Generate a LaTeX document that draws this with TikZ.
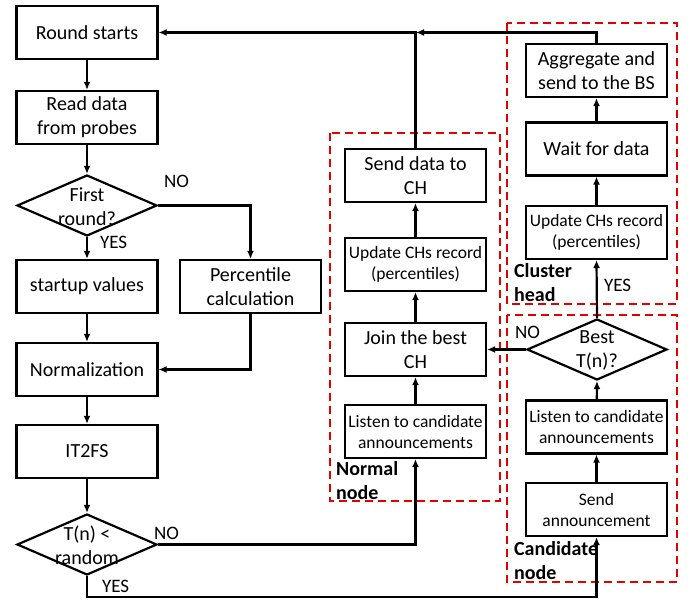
\documentclass[tikz,border=0pt]{standalone}
\usepackage{fontspec}
\setmainfont{Carlito}
\usetikzlibrary{shapes.geometric,arrows.meta}
\begin{document}
\begin{tikzpicture}[x=1pt,y=-1pt, line width=2.2pt,
  box/.style={draw, line width=2.2pt, rectangle, minimum width=141pt, minimum height=53pt, inner sep=0pt, align=center, font=\fontsize{20}{24}\selectfont},
  sbox/.style={box, font=\fontsize{17.5}{21}\selectfont},
  dia/.style={draw, line width=2.2pt, diamond, minimum width=140pt, minimum height=61pt, inner sep=0pt},
  dtext/.style={align=center, inner sep=0pt, font=\fontsize{20}{24}\selectfont},
  yn/.style={anchor=base west, inner sep=0pt, font=\fontsize{19}{23}\selectfont},
  grp/.style={anchor=base west, inner sep=0pt, align=left, font=\fontsize{20}{24}\selectfont\bfseries},
  reg/.style={draw=red!90!black, dashed, dash pattern=on 8pt off 5pt, line width=2.2pt},
  arr/.style={line width=2.2pt, -{Latex[length=8pt,width=7pt]}}
]
\useasboundingbox (0,0) rectangle (697,601);
% dashed groups
\draw[reg] (330,133) rectangle (500,501);
\draw[reg] (507,23) rectangle (677,304);
\draw[reg] (507,315) rectangle (677,582);
% left column
\node[box] (round) at (87,32.5) {Round starts};
\node[box] (read) at (87,117.5) {Read data\\from probes};
\node[dia] (first) at (87,205.5) {};
\node[dtext] (firstt) at (87,207) {First\\round?};
\node[box] (startup) at (87,286.5) {startup values};
\node[box] (perc) at (250.5,286.5) {Percentile\\calculation};
\node[box] (norm) at (87,369.5) {Normalization};
\node[box] (it2) at (87,451.5) {IT2FS};
\node[dia] (tn) at (87,544.5) {};
\node[dtext] (tnt) at (87,545) {T(n) <\\random};
% normal node column
\node[box] (send) at (415.5,175.5) {Send data to\\CH};
\node[sbox] (updn) at (415.5,264.5) {Update CHs record\\(percentiles)};
\node[box] (join) at (415.5,349.5) {Join the best\\CH};
\node[sbox] (listn) at (415.5,431.5) {Listen to candidate\\announcements};
% cluster head column
\node[box] (agg) at (596.5,70.5) {Aggregate and\\send to the BS};
\node[box] (wait) at (596.5,149) {Wait for data};
\node[sbox] (updc) at (596.5,232.5) {Update CHs record\\(percentiles)};
% candidate column
\node[dia] (best) at (597,349.5) {};
\node[dtext] (bestt) at (597,350) {Best\\T(n)?};
\node[sbox] (listc) at (596.5,427) {Listen to candidate\\announcements};
\node[sbox] (sann) at (596.5,509.5) {Send\\announcement};
% group labels
\node[grp] (lnormal) at (335,476) {Normal};
\node[grp] (lnormal2) at (335,500) {node};
\node[grp] (lcluster) at (513,278) {Cluster};
\node[grp] (lcluster2) at (513,302) {head};
\node[grp] (lcand) at (513,556) {Candidate};
\node[grp] (lcand2) at (513,580) {node};
% yes/no labels
\node[yn] (no1) at (163,188) {NO};
\node[yn] (yes1) at (99,249) {YES};
\node[yn] (no2) at (153,540) {NO};
\node[yn] (yes2) at (101,593) {YES};
\node[yn] (no3) at (514,339) {NO};
\node[yn] (yes3) at (603,292) {YES};
\coordinate (junc) at (416,32.5);
\coordinate (bot) at (87,597);
% connectors left
\draw[arr] (round) -- (read);
\draw[arr] (read) -- (first.north);
\draw[arr] (first.south) -- (startup);
\draw[arr] (first.east) -| (perc.north);
\draw[arr] (startup) -- (norm);
\draw[arr] (perc.south) |- (norm.east);
\draw[arr] (norm) -- (it2);
\draw[arr] (it2) -- (tn.north);
\draw[arr] (tn.east) -| (listn.south);
\draw[arr] (tn.south) -- (bot) -| (sann.south);
% normal
\draw[arr] (listn) -- (join);
\draw[arr] (join) -- (updn);
\draw[arr] (updn) -- (send);
\draw[arr] (send.north) |- (round.east);
% candidate / CH
\draw[arr] (sann) -- (listc);
\draw[arr] (listc) -- (best.south);
\draw[arr] (best.west) -- (join.east);
\draw[arr] (best.north) -- (updc.south);
\draw[arr] (updc) -- (wait);
\draw[arr] (wait) -- (agg);
\draw[arr] (agg.north) |- (junc);
\end{tikzpicture}
\end{document}
